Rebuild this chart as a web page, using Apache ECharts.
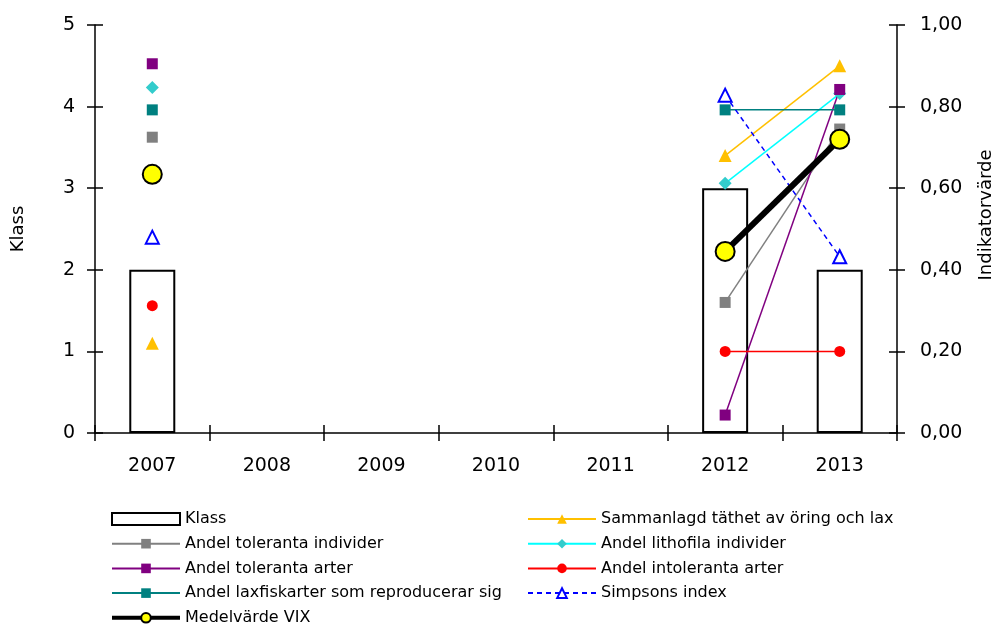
<!DOCTYPE html>
<html>
<head>
<meta charset="utf-8">
<script src="https://cdn.jsdelivr.net/npm/echarts@6/dist/echarts.min.js"></script>
<style>
  html, body { margin: 0; padding: 0; background: #fff; }
  #chart { width: 1003px; height: 627px; }
</style>
</head>
<body>
<div id="chart"></div>
<script>
// Years on the category axis
const years = ['2007', '2008', '2009', '2010', '2011', '2012', '2013'];

// Class per year (left axis, 0-5)
const klass = [2, null, null, null, null, 3, 2];

// Indicator values per year (right axis, 0-1)
const tathet = [0.22, null, null, null, null, 0.68, 0.90];
const tolerantaIndivider = [0.725, null, null, null, null, 0.32, 0.745];
const lithofila = [0.847, null, null, null, null, 0.612, 0.832];
const tolerantaArter = [0.905, null, null, null, null, 0.044, 0.842];
const intolerantaArter = [0.312, null, null, null, null, 0.2, 0.2];
const laxfiskReproducerar = [0.792, null, null, null, null, 0.792, 0.792];
const simpsons = [0.48, null, null, null, null, 0.828, 0.432];
const medelvarde = [0.634, null, null, null, null, 0.445, 0.72];

const FONT = 'DejaVu Sans';
const TICK_FONT = 19;

const chart = echarts.init(document.getElementById('chart'), null, { renderer: 'canvas' });

function lineSeries(name, data, color, symbol, size, extra) {
  return Object.assign({
    name: name,
    type: 'line',
    yAxisIndex: 1,
    data: data,
    symbol: symbol,
    symbolSize: size,
    connectNulls: false,
    lineStyle: { color: color, width: 1.5 },
    itemStyle: { color: color },
    z: 3
  }, extra || {});
}

const legendText = { fontFamily: FONT, fontSize: 16, color: '#000', lineHeight: 16 };

const option = {
  animation: false,
  backgroundColor: '#fff',
  textStyle: { fontFamily: FONT, color: '#000' },
  grid: { left: 95, right: 103, top: 25, bottom: 194 },
  legend: [
    {
      left: 105, top: 506, height: 140, orient: 'vertical',
      itemWidth: 68, itemHeight: 12, itemGap: 8.7,
      textStyle: legendText,
      data: [{ name: 'Klass', icon: 'rect' }, 'Andel toleranta individer', 'Andel toleranta arter',
             'Andel laxfiskarter som reproducerar sig',
             { name: 'Medelvärde VIX', lineStyle: { width: 4 } }]
    },
    {
      left: 522, top: 506, height: 140, orient: 'vertical',
      itemWidth: 68, itemHeight: 12, itemGap: 8.7,
      textStyle: legendText,
      data: ['Sammanlagd täthet av öring och lax', 'Andel lithofila individer',
             'Andel intoleranta arter', 'Simpsons index']
    }
  ],
  xAxis: [
    {
      type: 'category', data: years, boundaryGap: true,
      axisLine: { lineStyle: { color: '#000', width: 1.5 } },
      axisTick: { show: true, inside: false, length: 8, lineStyle: { color: '#000', width: 1.5 } },
      axisLabel: { color: '#000', fontSize: TICK_FONT, fontFamily: FONT, margin: 24 },
      splitLine: { show: false }
    },
    {
      type: 'category', data: years, boundaryGap: true, position: 'bottom',
      axisLine: { show: false },
      axisTick: { show: true, inside: true, length: 8, lineStyle: { color: '#000', width: 1.5 } },
      axisLabel: { show: false },
      splitLine: { show: false }
    }
  ],
  yAxis: [
    {
      type: 'value', position: 'left', min: 0, max: 5, interval: 1,
      name: 'Klass', nameLocation: 'middle', nameRotate: 90, nameGap: 68,
      nameTextStyle: { fontSize: 18, color: '#000', fontFamily: FONT },
      axisLine: { show: true, lineStyle: { color: '#000', width: 1.5 } },
      axisTick: { show: true, inside: false, length: 8, lineStyle: { color: '#000', width: 1.5 } },
      axisLabel: { color: '#000', fontSize: TICK_FONT, fontFamily: FONT, margin: 20 },
      splitLine: { show: false }
    },
    {
      type: 'value', position: 'right', min: 0, max: 1, interval: 0.2,
      name: 'Indikatorvärde', nameLocation: 'middle', nameRotate: 90, nameGap: 80,
      nameTextStyle: { fontSize: 18, color: '#000', fontFamily: FONT, padding: [0, 0, 0, 28] },
      axisLine: { show: true, lineStyle: { color: '#000', width: 1.5 } },
      axisTick: { show: true, inside: false, length: 8, lineStyle: { color: '#000', width: 1.5 } },
      axisLabel: {
        color: '#000', fontSize: TICK_FONT, fontFamily: FONT, margin: 23,
        formatter: v => v.toFixed(2).replace('.', ',')
      },
      splitLine: { show: false }
    },
    {
      type: 'value', position: 'left', min: 0, max: 5, interval: 1,
      axisLine: { show: false },
      axisTick: { show: true, inside: true, length: 8, lineStyle: { color: '#000', width: 1.5 } },
      axisLabel: { show: false },
      splitLine: { show: false }
    },
    {
      type: 'value', position: 'right', min: 0, max: 1, interval: 0.2,
      axisLine: { show: false },
      axisTick: { show: true, inside: true, length: 8, lineStyle: { color: '#000', width: 1.5 } },
      axisLabel: { show: false },
      splitLine: { show: false }
    }
  ],
  series: [
    {
      name: 'Klass', type: 'bar', yAxisIndex: 0, data: klass, barWidth: 46,
      itemStyle: { color: '#fff', borderColor: '#000', borderWidth: 2 },
      z: 1
    },
    lineSeries('Sammanlagd täthet av öring och lax', tathet, '#FFC000', 'triangle', 13),
    lineSeries('Andel toleranta individer', tolerantaIndivider, '#808080', 'rect', 11),
    lineSeries('Andel lithofila individer', lithofila, '#00FFFF', 'diamond', 13,
      { itemStyle: { color: '#33CCCC' } }),
    lineSeries('Andel toleranta arter', tolerantaArter, '#800080', 'rect', 11),
    lineSeries('Andel intoleranta arter', intolerantaArter, '#FF0000', 'circle', 11),
    lineSeries('Andel laxfiskarter som reproducerar sig', laxfiskReproducerar, '#008080', 'rect', 11),
    lineSeries('Simpsons index', simpsons, '#0000FF', 'emptyTriangle', 13, {
      lineStyle: { color: '#0000FF', width: 1.5, type: [5, 4] },
      itemStyle: { color: '#0000FF', borderWidth: 2 }
    }),
    lineSeries('Medelvärde VIX', medelvarde, '#000', 'circle', 19, {
      lineStyle: { color: '#000', width: 6 },
      itemStyle: { color: '#FFFF00', borderColor: '#000', borderWidth: 2 },
      z: 5
    })
  ]
};

chart.setOption(option);
</script>
</body>
</html>
